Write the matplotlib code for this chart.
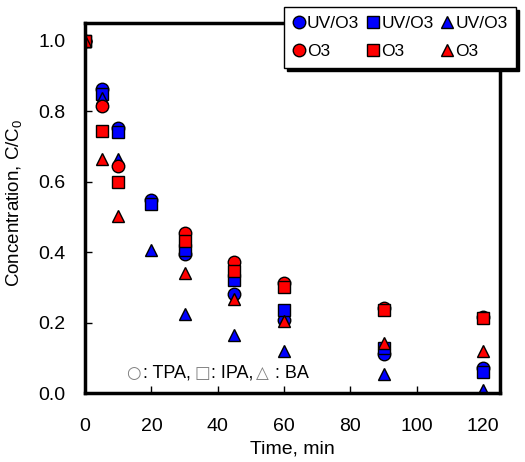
import matplotlib
matplotlib.use("Agg")
import matplotlib.pyplot as plt

plt.rcParams["font.family"] = ["Liberation Sans", "DejaVu Sans"]
plt.rcParams["mathtext.default"] = "regular"

time_min = [0, 5, 10, 20, 30, 45, 60, 90, 120]
time_o3 = [0, 5, 10, 30, 45, 60, 90, 120]

# UV/O3 series
uv_tpa = [1.0, 0.864, 0.752, 0.549, 0.394, 0.282, 0.207, 0.112, 0.070]
uv_ipa = [1.0, 0.850, 0.742, 0.537, 0.407, 0.320, 0.235, 0.127, 0.060]
uv_ba = [1.0, 0.838, 0.665, 0.405, 0.226, 0.164, 0.120, 0.054, 0.010]

# O3 series (no sample at 20 min)
o3_tpa = [1.0, 0.814, 0.644, 0.454, 0.372, 0.312, 0.242, 0.216]
o3_ipa = [1.0, 0.745, 0.599, 0.433, 0.346, 0.301, 0.235, 0.212]
o3_ba = [1.0, 0.663, 0.504, 0.341, 0.268, 0.205, 0.141, 0.120]

fig = plt.figure(figsize=(5.25, 4.62), dpi=100)
ax = fig.add_axes([0.162, 0.149, 0.790, 0.801])

kw = dict(linestyle="none", markeredgecolor="black", markeredgewidth=1.0)
h1, = ax.plot(time_min, uv_tpa, "o", color="blue", ms=9, label="UV/O3", **kw)
h3, = ax.plot(time_min, uv_ipa, "s", color="blue", ms=8, label="UV/O3", **kw)
h5, = ax.plot(time_min, uv_ba, "^", color="blue", ms=9, label="UV/O3", **kw)
h2, = ax.plot(time_o3, o3_tpa, "o", color="red", ms=9, label="O3", **kw)
h4, = ax.plot(time_o3, o3_ipa, "s", color="red", ms=8, label="O3", **kw)
h6, = ax.plot(time_o3, o3_ba, "^", color="red", ms=9, label="O3", **kw)

ax.set_xlim(0, 125)
ax.set_ylim(0, 1.05)
ax.set_xticks(range(0, 121, 20))
ax.set_yticks([0, 0.2, 0.4, 0.6, 0.8, 1.0])
ax.set_yticklabels(["0.0", "0.2", "0.4", "0.6", "0.8", "1.0"])
ax.tick_params(direction="in", length=5, width=1, labelsize=14)
ax.tick_params(axis="x", pad=18)
ax.tick_params(axis="y", pad=14)
for s in ax.spines.values():
    s.set_linewidth(2.5)

ax.set_xlabel("Time, min", fontsize=14, labelpad=4)
ax.set_ylabel("Concentration, C/C$_0$", fontsize=13.5)
ax.yaxis.set_label_coords(-0.147, 0.515)

# species key
ty = 0.054
sym = dict(transform=ax.transAxes, fontsize=12, color="gray",
           family=["DejaVu Sans"], va="center", ha="left")
txt = dict(transform=ax.transAxes, fontsize=13, va="center", ha="left")
ax.text(0.098, ty, "\u25cb", **sym)
ax.text(0.139, ty, ": TPA,", **txt)
ax.text(0.264, ty, "\u25a1", **sym)
ax.text(0.304, ty, ": IPA,", **txt)
ax.text(0.412, ty, "\u25b3", **sym)
ax.text(0.458, ty, ": BA", **txt)

leg = ax.legend(handles=[h1, h2, h3, h4, h5, h6], ncol=3, loc="upper right",
                bbox_to_anchor=(1.04, 1.043), borderaxespad=0, fontsize=12.5,
                frameon=True, fancybox=False, edgecolor="black", framealpha=1,
                shadow={"color": "black", "alpha": 1}, handlelength=0.7,
                handletextpad=0.12, columnspacing=0.45, labelspacing=0.75,
                borderpad=0.5)
leg.get_frame().set_linewidth(1.0)

fig.savefig("out.png", dpi=100)
